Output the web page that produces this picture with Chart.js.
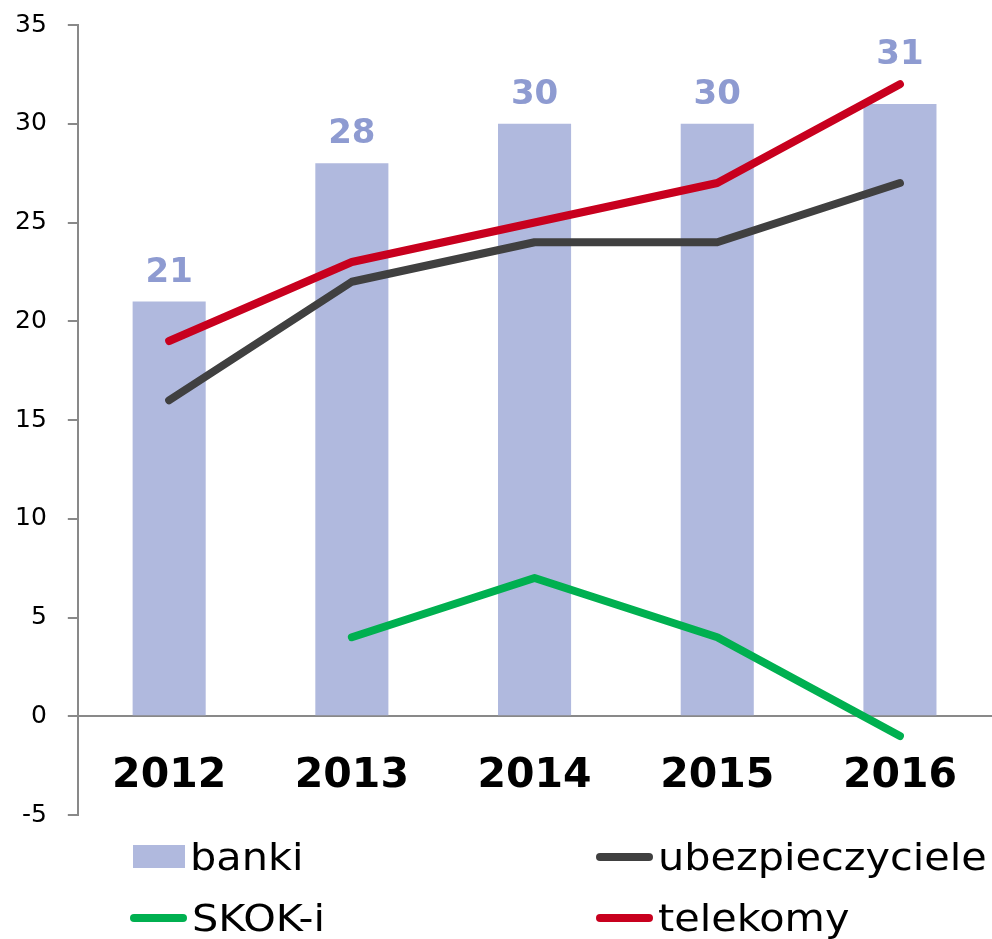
<!DOCTYPE html>
<html>
<head>
<meta charset="utf-8">
<script src="https://cdn.jsdelivr.net/npm/chart.js@4.4.1/dist/chart.umd.min.js"></script>
<style>
  html, body { margin: 0; padding: 0; background: #fff; }
  #wrap { position: relative; width: 992px; height: 939px; overflow: hidden; }
  #legend {
    position: absolute; left: 130px; top: 826px;
    display: grid; grid-template-columns: 466px auto; row-gap: 0;
    font-family: "DejaVu Sans", Verdana, sans-serif; font-size: 38px; color: #000;
  }
  .item { display: flex; align-items: center; height: 61px; }
  .item .t { display: inline-block; transform: scaleX(1.09); transform-origin: left center; }
  .sw { display: inline-block; margin-right: 5px; }
  .box { width: 52px; height: 23px; margin-left: 3px; }
  .ln { width: 57px; height: 8px; border-radius: 4px; }
</style>
</head>
<body>
<div id="wrap">
  <canvas id="chart"></canvas>
  <div id="legend"></div>
</div>
<script>
var years = ['2012', '2013', '2014', '2015', '2016'];
var banki = [21, 28, 30, 30, 31];
var ubezpieczyciele = [16, 22, 24, 24, 27];
var skoki = [null, 4, 7, 4, -1];
var telekomy = [19, 23, 25, 27, 32];
var yTicks = [-5, 0, 5, 10, 15, 20, 25, 30, 35];

var FONT = '"DejaVu Sans", Verdana, sans-serif';
var AXIS = '#898989';

// numbers above the bars, lifted over the highest line at that year
var barLabels = {
    id: 'barLabels',
    afterDatasetsDraw: function(chart) {
        var ctx = chart.ctx;
        var y = chart.scales.y;
        var meta = chart.getDatasetMeta(0);
        ctx.save();
        ctx.font = 'bold 34px ' + FONT;
        ctx.fillStyle = '#8E9BD1';
        ctx.textAlign = 'center';
        ctx.textBaseline = 'alphabetic';
        meta.data.forEach(function(bar, i) {
            var top = Infinity;
            chart.data.datasets.forEach(function(ds) {
                if (ds.data[i] != null) top = Math.min(top, y.getPixelForValue(ds.data[i]));
            });
            ctx.fillText(String(banki[i]), bar.x, top - 20);
        });
        ctx.restore();
    }
};

var ctx = document.getElementById('chart').getContext('2d');
var myChart = new Chart(ctx, {
    data: {
        labels: years,
        datasets: [{
            type: 'bar',
            label: 'banki',
            data: banki,
            backgroundColor: '#B0B9DE',
            barPercentage: 0.4,
            categoryPercentage: 1,
            order: 10
        }, {
            type: 'line',
            label: 'ubezpieczyciele',
            data: ubezpieczyciele,
            borderColor: '#404040',
            backgroundColor: '#404040',
            order: 2
        }, {
            type: 'line',
            label: 'SKOK-i',
            data: skoki,
            borderColor: '#00B050',
            backgroundColor: '#00B050',
            order: 3
        }, {
            type: 'line',
            label: 'telekomy',
            data: telekomy,
            borderColor: '#C8001E',
            backgroundColor: '#C8001E',
            order: 1
        }]
    },
    options: {
        responsive: true,
        maintainAspectRatio: false,
        animation: false,
        layout: { padding: { left: -6, top: 25, right: -3, bottom: 124 } },
        elements: {
            line: { borderWidth: 8, borderCapStyle: 'round', borderJoinStyle: 'round', tension: 0 },
            point: { radius: 0, hoverRadius: 0 }
        },
        plugins: {
            legend: { display: false },
            tooltip: { enabled: false }
        },
        scales: {
            x: {
                position: { y: 0 },
                grid: { display: false, drawTicks: false },
                border: { display: true, color: AXIS, width: 2 },
                ticks: {
                    padding: 35,
                    color: '#000',
                    font: { family: FONT, size: 41, weight: 'bold' }
                }
            },
            y: {
                min: -5,
                max: 35,
                afterBuildTicks: function(scale) {
                    scale.ticks = yTicks.map(function(v) { return { value: v }; });
                },
                afterFit: function(scale) {
                    // the tick padding should not push the plot down
                    scale.paddingTop = 0;
                    scale.paddingBottom = 0;
                },
                grid: { drawOnChartArea: false, drawTicks: true, tickLength: 10, color: AXIS, lineWidth: 2 },
                border: { display: true, color: AXIS, width: 2 },
                ticks: {
                    padding: 21,
                    color: '#000',
                    font: { family: FONT, size: 25 }
                }
            }
        }
    },
    plugins: [barLabels]
});

// legend in two columns, built from the datasets
var legend = document.getElementById('legend');
myChart.data.datasets.forEach(function(ds) {
    var item = document.createElement('div');
    item.className = 'item';
    var sw = document.createElement('span');
    sw.className = 'sw ' + (ds.type === 'bar' ? 'box' : 'ln');
    sw.style.background = ds.type === 'bar' ? ds.backgroundColor : ds.borderColor;
    var txt = document.createElement('span');
    txt.className = 't';
    txt.textContent = ds.label;
    item.appendChild(sw);
    item.appendChild(txt);
    legend.appendChild(item);
});
</script>
</body>
</html>
